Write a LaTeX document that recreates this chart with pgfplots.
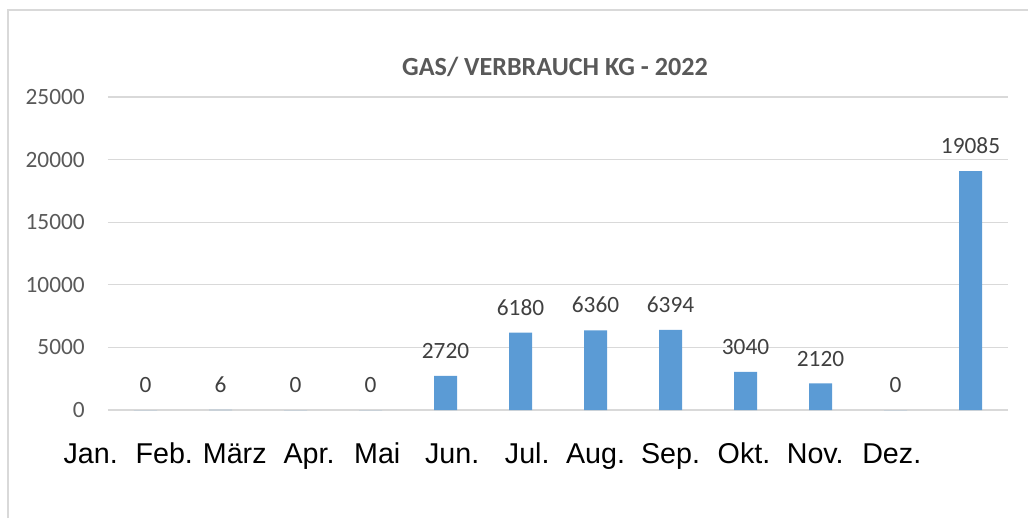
\documentclass[border=0pt]{standalone}
\usepackage{pgfplots}
\pgfplotsset{compat=1.18}
\usepackage{fontspec}
\setmainfont{Carlito}
\newfontfamily\arial{Liberation Sans}
\definecolor{barblue}{HTML}{5B9BD5}
\definecolor{txtgray}{HTML}{595959}
\definecolor{lblgray}{HTML}{404040}
\definecolor{gridgray}{HTML}{D9D9D9}
\begin{document}
\begin{tikzpicture}[x=0.75pt,y=0.75pt]
\path[use as bounding box] (0,0) rectangle (1028,518);
\draw[gridgray, line width=1.5pt] (7.5,0) -- (7.5,508) -- (1028,508);
\node[font=\fontsize{19.6}{23}\selectfont\bfseries, text=txtgray] at (555,451) {GAS/ VERBRAUCH KG - 2022};
\begin{axis}[
  at={(81pt,81pt)}, anchor=south west, scale only axis,
  width=675pt, height=234.75pt,
  ybar,
  xmin=-0.5, xmax=11.5, ymin=0, ymax=25000,
  ytick={0,5000,10000,15000,20000,25000},
  scaled y ticks=false,
  xtick={0,0.98,1.92,2.91,3.82,4.82,5.82,6.73,7.73,8.71,9.66,10.68},
  xticklabels={Jan.,Feb.,März,Apr.,Mai,Jun.,Jul.,Aug.,Sep.,Okt.,Nov.,Dez.},
  axis line style={draw=none},
  major tick length=0pt,
  ymajorgrids, grid style={gridgray, line width=1pt},
  xmajorgrids=false,
  /pgf/number format/1000 sep={},
  /pgf/number format/assume math mode=true,
  yticklabel style={font=\fontsize{17.5}{21}\selectfont, text=txtgray, anchor=east, inner sep=0pt, xshift=-17.25pt},
  xticklabel style={font=\arial\fontsize{21.5}{25}\selectfont, text=black, anchor=base, inner sep=0pt, yshift=-39.75pt, xshift=-41.06pt},
  clip=false,
]
\addplot[fill=barblue, draw=none, bar width=17.25pt,
  nodes near coords,
  nodes near coords style={font=\fontsize{17.5}{21}\selectfont, text=lblgray, anchor=south, inner sep=0pt, yshift=12.75pt}]
  coordinates {(0,0) (1,6) (2,0) (3,0) (4,2720) (5,6180) (6,6360) (7,6394) (8,3040) (9,2120) (10,0) (11,19085)};
\end{axis}
\end{tikzpicture}
\end{document}
